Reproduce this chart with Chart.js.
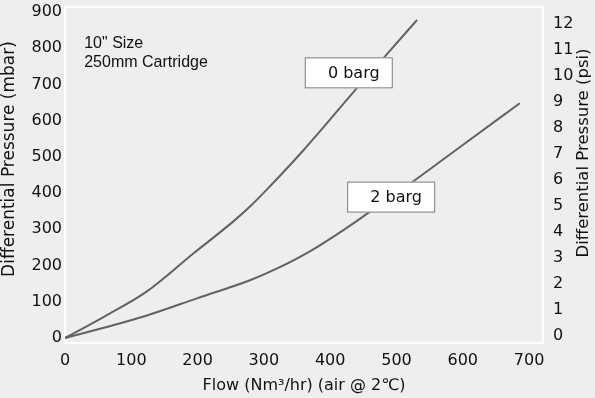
<!DOCTYPE html>
<html>
<head>
<meta charset="utf-8">
<script src="https://cdn.jsdelivr.net/npm/chart.js@4"></script>
<style>
  html, body { margin: 0; padding: 0; background: #eeeeee; }
  #wrap { width: 595px; height: 398px; }
</style>
</head>
<body>
<div id="wrap"><canvas id="dpChart"></canvas></div>
<script>
// curve values
const flow0 = [0, 60, 123, 194, 254, 279, 304, 360, 440, 480, 531];
const dp0 = [0, 60, 128, 234, 322, 363, 409, 519, 689, 772, 878];
const flow2 = [0, 60, 120, 200, 280, 320, 370, 420, 458, 525, 600, 686];
const dp2 = [0, 29, 60, 110, 160, 192, 240, 298, 346, 432, 533, 648];

const seriesNames = ['0 barg', '2 barg'];
const flowTicks = [0, 100, 200, 300, 400, 500, 600, 700];
const mbarTicks = [0, 100, 200, 300, 400, 500, 600, 700, 800, 900];
const psiTicks = [0, 1, 2, 3, 4, 5, 6, 7, 8, 9, 10, 11, 12];
const noteLines = ['10" Size', '250mm Cartridge'];
const leftTitle = 'Differential Pressure (mbar)';
const rightTitle = 'Differential Pressure (psi)';

// where the series name boxes and the note sit, in data units
const boxSpots = [{ x: 428, y: 732 }, { x: 492, y: 389 }];
const noteSpot = { x: 29, y: 812 };

const ink = '#111111';
const lineGrey = '#626262';
const tickFont = { family: 'DejaVu Sans', size: 16 };

const toPoints = (xs, ys) => xs.map((v, i) => ({ x: v, y: ys[i] }));

function sideTitle(ctx, text, x, y, size) {
  ctx.save();
  ctx.translate(x, y);
  ctx.rotate(-Math.PI / 2);
  ctx.font = size + 'px "DejaVu Sans"';
  ctx.fillStyle = ink;
  ctx.textAlign = 'center';
  ctx.textBaseline = 'middle';
  ctx.fillText(text, 0, 0);
  ctx.restore();
}

const decor = {
  id: 'decor',
  beforeDatasetsDraw(chart) {
    const { ctx, chartArea: a } = chart;
    ctx.save();
    ctx.strokeStyle = '#ffffff';
    ctx.lineWidth = 2;
    ctx.strokeRect(a.left, a.top, a.right - a.left, a.bottom - a.top);
    ctx.restore();
  },
  afterDatasetsDraw(chart) {
    const { ctx, scales } = chart;
    const sx = scales.x, sy = scales.y;
    ctx.save();
    ctx.fillStyle = ink;
    ctx.textBaseline = 'middle';
    ctx.font = '16px "Liberation Sans", Arial';
    ctx.textAlign = 'left';
    const nx = sx.getPixelForValue(noteSpot.x);
    const ny = sy.getPixelForValue(noteSpot.y);
    noteLines.forEach((t, i) => ctx.fillText(t, nx, ny + i * 19));

    ctx.font = '16px "DejaVu Sans"';
    ctx.textAlign = 'center';
    boxSpots.forEach((p, i) => {
      const cx = sx.getPixelForValue(p.x);
      const cy = sy.getPixelForValue(p.y);
      ctx.fillStyle = '#ffffff';
      ctx.fillRect(cx - 44, cy - 15.5, 88, 31);
      ctx.strokeStyle = '#7a7a7a';
      ctx.lineWidth = 1;
      ctx.strokeRect(cx - 43.5, cy - 15, 87, 30);
      ctx.fillStyle = ink;
      ctx.fillText(seriesNames[i], cx + 5, cy + 1);
    });
    ctx.restore();
  },
  afterDraw(chart) {
    const { ctx } = chart;
    // both side titles read bottom-to-top in the original
    sideTitle(ctx, leftTitle, 10, 159, 17);
    sideTitle(ctx, rightTitle, 584, 153, 16.5);
  }
};

const ctx = document.getElementById('dpChart').getContext('2d');
const dpChart = new Chart(ctx, {
  type: 'line',
  data: {
    datasets: [
      {
        label: seriesNames[0],
        data: toPoints(flow0, dp0),
        yAxisID: 'y',
        borderColor: lineGrey,
        borderWidth: 2,
        pointRadius: 0,
        cubicInterpolationMode: 'monotone',
        fill: false
      },
      {
        label: seriesNames[1],
        data: toPoints(flow2, dp2),
        yAxisID: 'y',
        borderColor: lineGrey,
        borderWidth: 2,
        pointRadius: 0,
        cubicInterpolationMode: 'monotone',
        fill: false
      }
    ]
  },
  options: {
    responsive: true,
    maintainAspectRatio: false,
    animation: false,
    layout: { padding: { top: 7, left: 0, right: 0, bottom: 0 } },
    plugins: {
      legend: { display: false },
      tooltip: { enabled: false }
    },
    scales: {
      x: {
        type: 'linear',
        min: 0,
        max: 721,
        grid: { display: false, drawTicks: false, tickLength: 0 },
        border: { display: false },
        afterBuildTicks: s => { s.ticks = flowTicks.map(v => ({ value: v })); },
        afterFit: s => { s.height = 55; s.paddingLeft = 0; s.paddingRight = 0; },
        ticks: { color: ink, font: tickFont, padding: 8, maxRotation: 0, autoSkip: false },
        title: {
          display: true,
          text: 'Flow (Nm³/hr) (air @ 2℃)',
          color: ink,
          font: { family: 'DejaVu Sans', size: 16 },
          padding: { top: 0, bottom: 3 }
        }
      },
      y: {
        position: 'left',
        min: -13.8,
        max: 913.8,
        grid: { display: false, drawTicks: false, tickLength: 0 },
        border: { display: false },
        afterBuildTicks: s => { s.ticks = mbarTicks.map(v => ({ value: v })); },
        afterFit: s => { s.width = 65; s.paddingTop = 0; s.paddingBottom = 0; },
        ticks: { color: ink, font: tickFont, padding: 3, autoSkip: false }
      },
      y1: {
        position: 'right',
        min: -0.29,
        max: 12.63,
        grid: { display: false, drawTicks: false, tickLength: 0 },
        border: { display: false },
        afterBuildTicks: s => { s.ticks = psiTicks.map(v => ({ value: v })); },
        afterFit: s => { s.width = 52; s.paddingTop = 0; s.paddingBottom = 0; },
        ticks: { color: ink, font: tickFont, padding: 10, autoSkip: false }
      }
    }
  },
  plugins: [decor]
});
</script>
</body>
</html>
